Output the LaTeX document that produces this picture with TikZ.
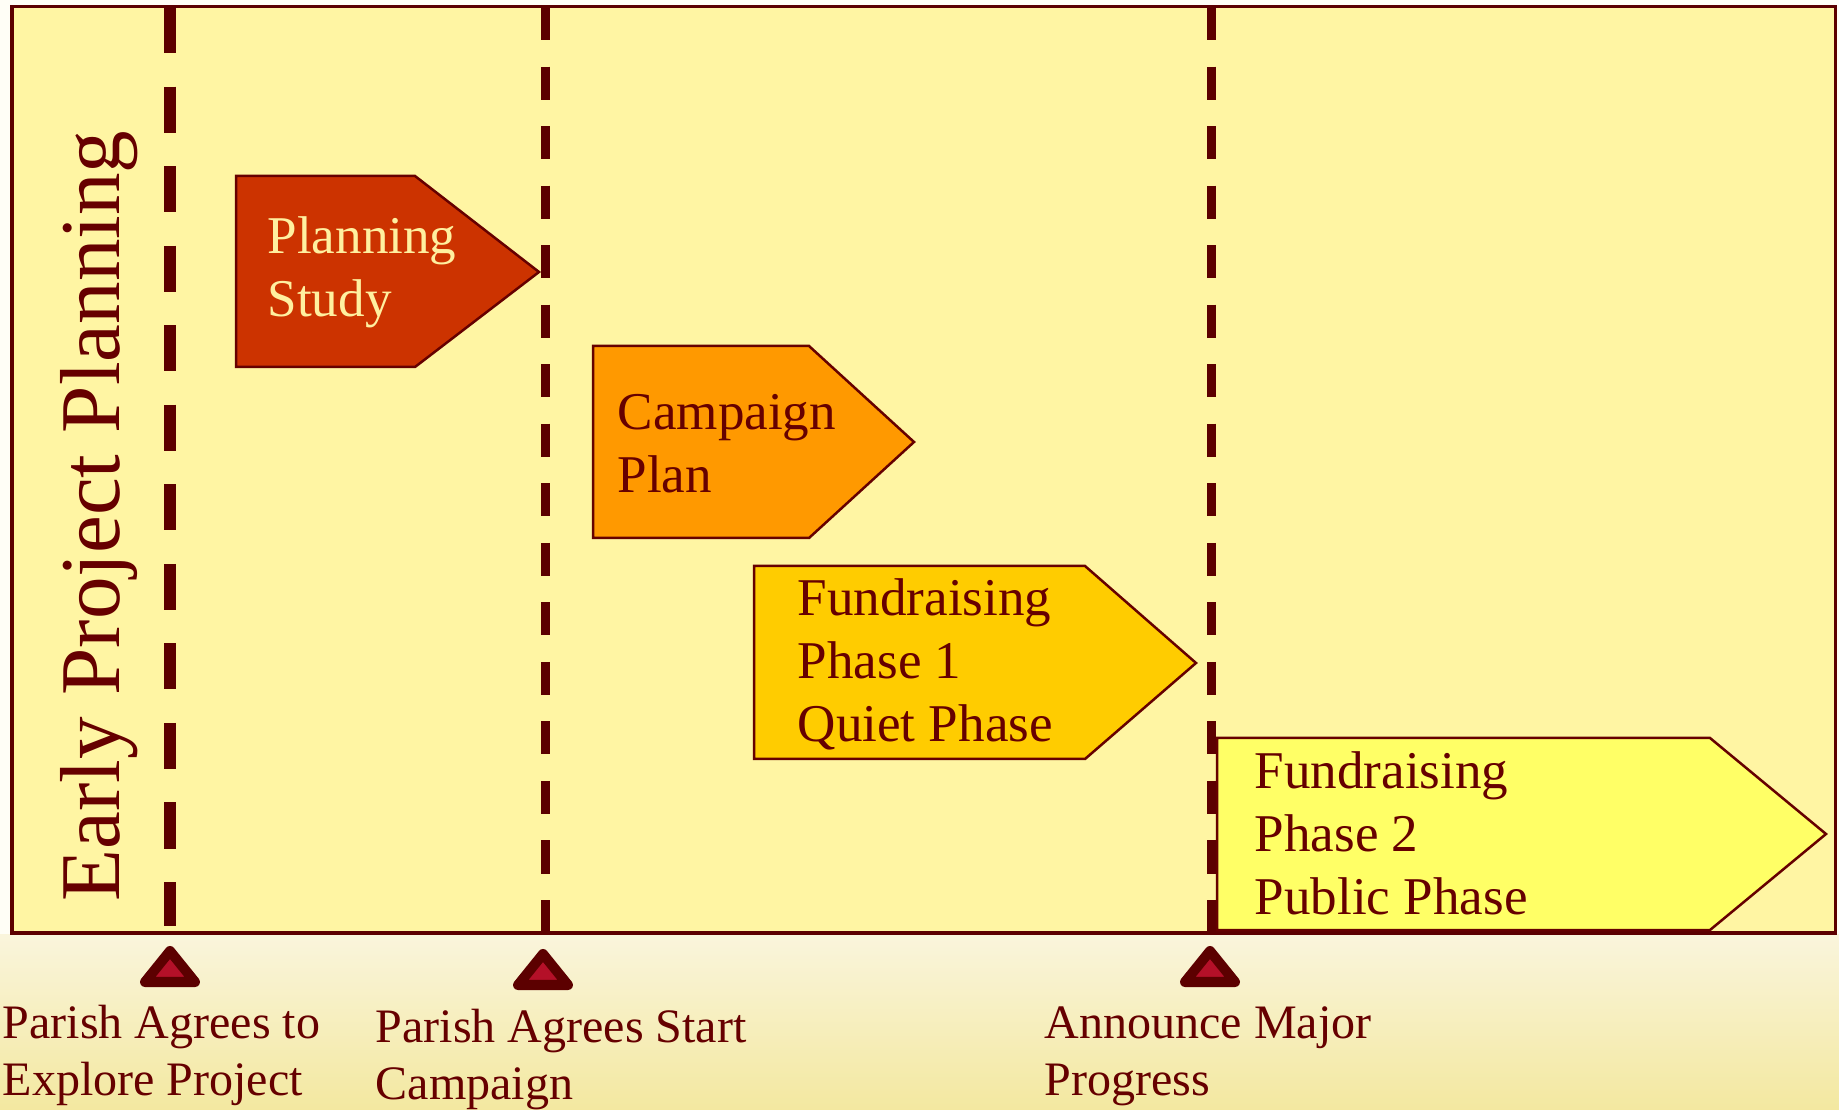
\documentclass[tikz,border=0pt]{standalone}
\usepackage{fontspec}
\setmainfont{Liberation Serif}
\usepackage{tikz}
\usetikzlibrary{positioning}
\definecolor{framefill}{RGB}{255,245,163}
\definecolor{linered}{RGB}{92,0,0}
\definecolor{textred}{RGB}{102,0,0}
\definecolor{markfill}{RGB}{180,16,40}
\definecolor{studyfill}{RGB}{204,51,0}
\definecolor{studytext}{RGB}{255,240,160}
\definecolor{planfill}{RGB}{255,153,0}
\definecolor{quietfill}{RGB}{255,204,0}
\definecolor{publicfill}{RGB}{255,255,102}
\definecolor{fieldtop}{RGB}{250,245,220}
\definecolor{fieldbot}{RGB}{243,232,160}
\tikzset{
    frame/.style     = {draw=linered, line width=0.03cm, fill=framefill},
    majorcut/.style  = {draw=linered, line width=0.12cm,
                        dash pattern=on 0.46cm off 0.335cm},
    minorcut/.style  = {draw=linered, line width=0.09cm,
                        dash pattern=on 0.33cm off 0.265cm},
    phase/.style     = {draw=textred, line width=0.025cm},
    phasetext/.style = {anchor=west, align=left, inner sep=0pt, text=textred,
                        font=\fontsize{15.1pt}{17.9pt}\selectfont},
    marker/.style    = {draw=linered, fill=markfill, line width=0.1cm,
                        line join=round},
    milestone/.style = {anchor=base west, align=left, inner sep=0pt,
                        text=textred, font=\fontsize{13.66pt}{15.94pt}\selectfont},
}

\begin{document}
\begin{tikzpicture}[x=0.01cm, y=-0.01cm]
\useasboundingbox (0,0) rectangle (1839,1110);

% page and field below the chart
\fill[white!60!framefill!25] (0,0) rectangle (1839,1110);
\shade[top color=fieldtop, bottom color=fieldbot] (0,934) rectangle (1839,1110);

% chart area
\draw[frame] (12,7) rectangle (1835,933);

\node[rotate=90, anchor=base, inner sep=0pt, text=textred,
      font=\fontsize{24.2pt}{29pt}\selectfont] (title) at (120,516)
    {Early Project Planning};

% milestone cut lines
\coordinate (cut1top) at (170,7);
\coordinate (cut1bot) at (170,926);
\coordinate (cut2top) at (545,7);
\coordinate (cut2bot) at (545,937);
\coordinate (cut3top) at (1211,7);
\coordinate (cut3bot) at (1211,933);
\draw[majorcut] (cut1top) -- (cut1bot);
\draw[minorcut] (cut2top) -- (cut2bot);
\draw[minorcut] (cut3top) -- (cut3bot);

% phases
\draw[phase, fill=studyfill]
    (236,176) -- (415,176) -- (539,272) -- (415,367) -- (236,367) -- cycle;
\node[phasetext, text=studytext] (study) at (267,272) {Planning\\Study};

\draw[phase, fill=planfill]
    (593,346) -- (809,346) -- (914,442) -- (809,538) -- (593,538) -- cycle;
\node[phasetext] (plan) at (617,444) {Campaign\\Plan};

\draw[phase, fill=quietfill]
    (754,566) -- (1085,566) -- (1196,663) -- (1085,759) -- (754,759) -- cycle;
\node[phasetext] (quiet) at (797,664) {Fundraising\\Phase 1\\Quiet Phase};

\draw[phase, fill=publicfill]
    (1217,738) -- (1710,738) -- (1826,834) -- (1710,930) -- (1217,930) -- cycle;
\node[phasetext] (public) at (1254,833) {Fundraising\\Phase 2\\Public Phase};

% milestone markers
\draw[marker] (145,982) -- (195,982) -- (170,951) -- cycle;
\draw[marker] (518,985) -- (568,985) -- (543,954) -- cycle;
\draw[marker] (1185,982) -- (1235,982) -- (1210,951) -- cycle;

% base anchor sits on the last line
\node[milestone] (explore) at (2,1095) {Parish Agrees to\\Explore Project};
\node[milestone] (start) at (375,1099) {Parish Agrees Start\\Campaign};
\node[milestone] (announce) at (1044,1095) {Announce Major\\Progress};

\end{tikzpicture}
\end{document}
